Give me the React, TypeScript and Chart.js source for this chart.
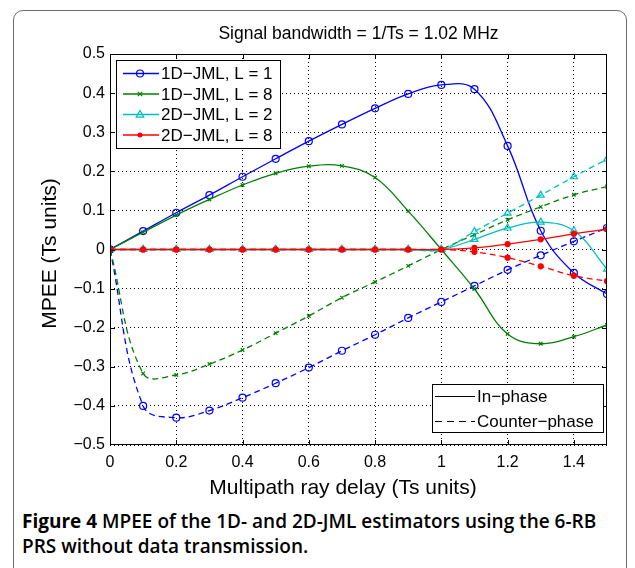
import React, { useEffect, useRef } from "react";
import { Chart, registerables } from "chart.js";

Chart.register(...registerables);

const TITLE = "Signal bandwidth = 1/Ts = 1.02 MHz";
const X_LABEL = "Multipath ray delay (Ts units)";
const Y_LABEL = "MPEE (Ts units)";
const CAPTION_BOLD = "Figure 4";
const CAPTION_LINE1 = " MPEE of the 1D- and 2D-JML estimators using the 6-RB";
const CAPTION_LINE2 = "PRS without data transmission.";

const DELAYS = [0, 0.1, 0.2, 0.3, 0.4, 0.5, 0.6, 0.7, 0.8, 0.9, 1.0, 1.1, 1.2, 1.3, 1.4, 1.5];

// In-phase (solid)
const JML1D_L1_IN = [0, 0.047, 0.094, 0.139, 0.186, 0.232, 0.277, 0.32, 0.361, 0.398, 0.421, 0.41, 0.265, 0.048, -0.06, -0.114];
const JML1D_L8_IN = [0, 0.044, 0.088, 0.128, 0.165, 0.195, 0.213, 0.214, 0.184, 0.098, 0, -0.101, -0.216, -0.241, -0.223, -0.193];
const JML2D_L2_IN = [0, 0, 0, 0, 0, 0, 0, 0, 0, 0, 0, 0.026, 0.055, 0.07, 0.048, -0.05];
const JML2D_L8_IN = [0, 0, 0, 0, 0, 0, 0, 0, 0, 0, 0, 0.004, 0.014, 0.026, 0.04, 0.052];

// Counter-phase (dashed)
const JML1D_L1_CP = [0, -0.4, -0.43, -0.412, -0.379, -0.342, -0.302, -0.259, -0.218, -0.175, -0.134, -0.093, -0.052, -0.015, 0.021, 0.055];
const JML1D_L8_CP = [0, -0.317, -0.321, -0.293, -0.257, -0.214, -0.17, -0.123, -0.083, -0.042, 0, 0.038, 0.076, 0.109, 0.14, 0.161];
const JML2D_L2_CP = [0, 0, 0, 0, 0, 0, 0, 0, 0, 0, 0, 0.046, 0.093, 0.139, 0.186, 0.231];
const JML2D_L8_CP = [0, 0, 0, 0, 0, 0, 0, 0, 0, 0, 0, -0.006, -0.021, -0.043, -0.067, -0.081];

const SERIES_NAMES = ["1D\u2212JML, L = 1", "1D\u2212JML, L = 8", "2D\u2212JML, L = 2", "2D\u2212JML, L = 8"];
const PHASE_NAMES = ["In\u2212phase", "Counter\u2212phase"];

const COLORS = ["#0000ff", "#008000", "#00bfbf", "#ff0000"];
const MARKERS = ["circle", "crossRot", "triangle", "dot"];

const FONT = '"Liberation Sans", Arial, Helvetica, sans-serif';
const DASH = [6, 4];

function fmt(v: number): string {
  const n = parseFloat(v.toFixed(2));
  const s = String(Math.abs(n));
  return n < 0 ? "\u2212" + s : s;
}

function drawMarker(ctx: CanvasRenderingContext2D, kind: string, x: number, y: number, color: string) {
  ctx.save();
  ctx.setLineDash([]);
  ctx.strokeStyle = color;
  ctx.fillStyle = color;
  ctx.lineWidth = 1.2;
  ctx.beginPath();
  if (kind === "circle") {
    ctx.arc(x, y, 3.5, 0, Math.PI * 2);
    ctx.stroke();
  } else if (kind === "crossRot") {
    const r = 2.2;
    ctx.moveTo(x - r, y - r);
    ctx.lineTo(x + r, y + r);
    ctx.moveTo(x + r, y - r);
    ctx.lineTo(x - r, y + r);
    ctx.stroke();
  } else if (kind === "triangle") {
    const r = 4;
    ctx.moveTo(x, y - r);
    ctx.lineTo(x + r * 0.95, y + r * 0.65);
    ctx.lineTo(x - r * 0.95, y + r * 0.65);
    ctx.closePath();
    ctx.stroke();
  } else {
    ctx.arc(x, y, 2.5, 0, Math.PI * 2);
    ctx.fill();
  }
  ctx.restore();
}

const framePlugin = {
  id: "matlabFrame",
  afterDraw(chart: any) {
    const { ctx, chartArea: ca, scales } = chart;
    const xs = scales.x;
    const ys = scales.y;
    ctx.save();
    ctx.setLineDash([]);
    ctx.strokeStyle = "#000";
    ctx.lineWidth = 1;
    ctx.strokeRect(ca.left + 0.5, ca.top + 0.5, ca.right - ca.left - 1, ca.bottom - ca.top - 1);
    const tl = 5;
    ctx.beginPath();
    xs.ticks.forEach((t: any) => {
      const px = Math.round(xs.getPixelForValue(t.value)) + 0.5;
      if (px <= ca.left + 1 || px >= ca.right - 1) return;
      ctx.moveTo(px, ca.bottom);
      ctx.lineTo(px, ca.bottom - tl);
      ctx.moveTo(px, ca.top);
      ctx.lineTo(px, ca.top + tl);
    });
    ys.ticks.forEach((t: any) => {
      const py = Math.round(ys.getPixelForValue(t.value)) + 0.5;
      if (py <= ca.top + 1 || py >= ca.bottom - 1) return;
      ctx.moveTo(ca.left, py);
      ctx.lineTo(ca.left + tl, py);
      ctx.moveTo(ca.right, py);
      ctx.lineTo(ca.right - tl, py);
    });
    ctx.stroke();

    // Titles
    ctx.fillStyle = "#000";
    ctx.textAlign = "center";
    ctx.textBaseline = "middle";
    ctx.font = "17.5px " + FONT;
    ctx.fillText(TITLE, (ca.left + ca.right) / 2, ca.top - 20);
    ctx.font = "21px " + FONT;
    ctx.fillText(X_LABEL, ca.left + 233, ca.bottom + 43);
    ctx.save();
    ctx.translate(ca.left - 60, (ca.top + ca.bottom) / 2 + 4);
    ctx.rotate(-Math.PI / 2);
    ctx.fillText(Y_LABEL, 0, 0);
    ctx.restore();

    // Series legend (top-left)
    ctx.font = "17px " + FONT;
    ctx.textBaseline = "middle";
    ctx.textAlign = "left";
    const b1 = { x: ca.left + 6, y: ca.top + 6, w: 164, h: 88 };
    ctx.fillStyle = "#fff";
    ctx.fillRect(b1.x, b1.y, b1.w, b1.h);
    ctx.strokeStyle = "#000";
    ctx.lineWidth = 1;
    ctx.strokeRect(b1.x + 0.5, b1.y + 0.5, b1.w, b1.h);
    SERIES_NAMES.forEach((name, i) => {
      const cy = b1.y + 13.5 + i * 20.5;
      ctx.strokeStyle = COLORS[i];
      ctx.lineWidth = 1.5;
      ctx.beginPath();
      ctx.moveTo(b1.x + 7, cy);
      ctx.lineTo(b1.x + 43, cy);
      ctx.stroke();
      drawMarker(ctx, MARKERS[i], b1.x + 24, cy, COLORS[i]);
      ctx.fillStyle = "#000";
      ctx.fillText(name, b1.x + 45, cy + 1);
    });

    // Phase legend (bottom-right)
    const b2 = { x: ca.right - 175, y: ca.bottom - 61, w: 171, h: 48 };
    ctx.fillStyle = "#fff";
    ctx.fillRect(b2.x, b2.y, b2.w, b2.h);
    ctx.strokeStyle = "#000";
    ctx.lineWidth = 1;
    ctx.strokeRect(b2.x + 0.5, b2.y + 0.5, b2.w, b2.h);
    PHASE_NAMES.forEach((name, i) => {
      const cy = b2.y + 12.5 + i * 25;
      ctx.strokeStyle = "#000";
      ctx.lineWidth = 1.2;
      ctx.setLineDash(i === 0 ? [] : [7, 5]);
      ctx.beginPath();
      ctx.moveTo(b2.x + 3, cy);
      ctx.lineTo(b2.x + 43, cy);
      ctx.stroke();
      ctx.setLineDash([]);
      ctx.fillStyle = "#000";
      ctx.fillText(name, b2.x + 45, cy + 1);
    });
    ctx.restore();
  },
};

function makeDataset(values: number[], idx: number, dashed: boolean) {
  const marker = MARKERS[idx];
  const color = COLORS[idx];
  return {
    label: SERIES_NAMES[idx] + (dashed ? " " + PHASE_NAMES[1] : " " + PHASE_NAMES[0]),
    data: DELAYS.map((x, i) => ({ x, y: values[i] })),
    borderColor: color,
    backgroundColor: marker === "dot" ? color : "rgba(0,0,0,0)",
    pointBackgroundColor: marker === "dot" ? color : "rgba(0,0,0,0)",
    pointBorderColor: color,
    pointStyle: marker === "dot" ? "circle" : marker,
    pointRadius: marker === "dot" ? 2.5 : marker === "crossRot" ? 2.5 : marker === "triangle" ? 4 : 3.5,
    pointBorderWidth: 1.2,
    borderWidth: 1.3,
    borderDash: dashed ? DASH : [],
    tension: 0.4,
    fill: false,
    order: 4 - idx,
  };
}

export default function App() {
  const canvasRef = useRef<HTMLCanvasElement | null>(null);

  useEffect(() => {
    document.body.style.margin = "0";
    const canvas = canvasRef.current;
    if (!canvas) return;
    const datasets = [
      makeDataset(JML2D_L8_IN, 3, false),
      makeDataset(JML2D_L8_CP, 3, true),
      makeDataset(JML2D_L2_IN, 2, false),
      makeDataset(JML2D_L2_CP, 2, true),
      makeDataset(JML1D_L8_IN, 1, false),
      makeDataset(JML1D_L8_CP, 1, true),
      makeDataset(JML1D_L1_IN, 0, false),
      makeDataset(JML1D_L1_CP, 0, true),
    ];
    const chart = new Chart(canvas, {
      type: "line",
      data: { datasets },
      options: {
        responsive: false,
        animation: false,
        devicePixelRatio: 1,
        layout: { padding: { left: 0, right: 28, top: 54, bottom: 0 } },
        plugins: {
          legend: { display: false },
          tooltip: { enabled: false },
          title: { display: false },
        },
        scales: {
          x: {
            type: "linear",
            min: 0,
            max: 1.5,
            ticks: {
              stepSize: 0.2,
              includeBounds: false,
              autoSkip: false,
              maxRotation: 0,
              color: "#000",
              font: { family: FONT, size: 16 },
              padding: 8,
              callback: (v: any) => fmt(Number(v)),
            },
            grid: { color: "#000", lineWidth: 1, drawTicks: false },
            border: { display: false, dash: [1, 3] },
            title: { display: false },
            afterFit: (s: any) => {
              s.height = 55;
            },
          },
          y: {
            type: "linear",
            min: -0.5,
            max: 0.5,
            ticks: {
              stepSize: 0.1,
              autoSkip: false,
              color: "#000",
              font: { family: FONT, size: 16 },
              padding: 5,
              callback: (v: any) => fmt(Number(v)),
            },
            grid: { color: "#000", lineWidth: 1, drawTicks: false },
            border: { display: false, dash: [1, 3] },
            title: { display: false },
            afterFit: (s: any) => {
              s.width = 110;
            },
          },
        },
      } as any,
      plugins: [framePlugin],
    });
    return () => chart.destroy();
  }, []);

  return (
    <div style={{ position: "relative", width: 635, height: 568, overflow: "hidden", background: "#fff" }}>
      <div
        style={{
          position: "absolute",
          left: 13,
          top: 10,
          width: 614,
          height: 620,
          border: "1.5px solid #6b6b6b",
          borderRadius: 10,
          boxSizing: "border-box",
        }}
      />
      <canvas ref={canvasRef} width={635} height={500} style={{ position: "absolute", left: 0, top: 0, width: 635, height: 500 }} />
      <div
        style={{
          position: "absolute",
          left: 22,
          top: 509,
          width: 605,
          fontFamily: '"Open Sans", "Noto Sans", sans-serif',
          fontSize: 19,
          lineHeight: "25px",
          fontWeight: 600,
          color: "#000",
          whiteSpace: "nowrap",
        }}
      >
        <span style={{ fontWeight: 700 }}>{CAPTION_BOLD}</span>
        {CAPTION_LINE1}
        <br />
        {CAPTION_LINE2}
      </div>
    </div>
  );
}
